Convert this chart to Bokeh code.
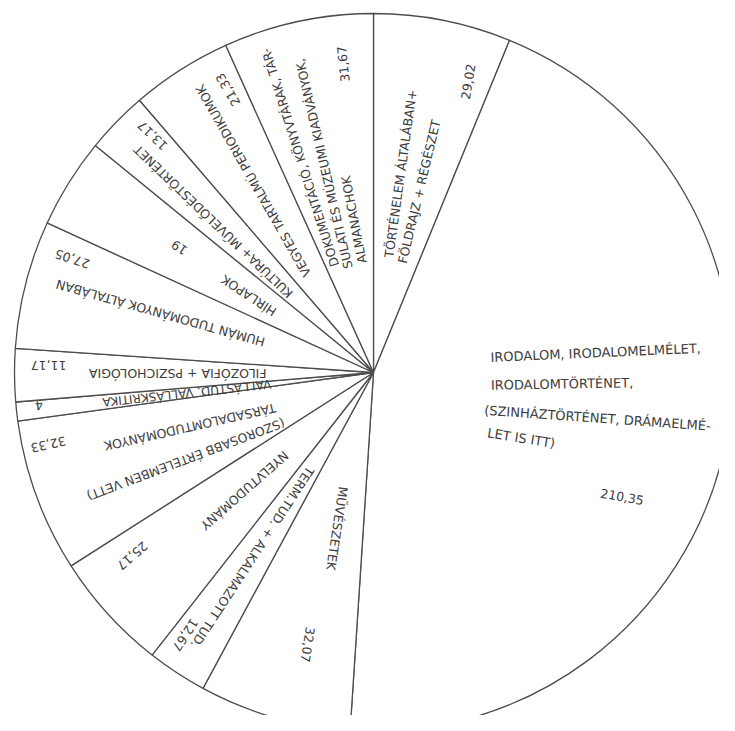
import math
from bokeh.plotting import figure
from bokeh.models import Range1d, ColumnDataSource
from bokeh.core.properties import value
from bokeh.embed import file_html
from bokeh.resources import INLINE

# ---------------- data ----------------
categories = [
    "Történelem általában + földrajz + régészet",
    "Irodalom, irodalomelmélet, irodalomtörténet",
    "Művészetek",
    "Term.tud. + alkalmazott tud.",
    "Nyelvtudomány",
    "(Szorosabb értelemben vett) társadalomtudományok",
    "Vallástud., valláskritika",
    "Filozófia + pszichológia",
    "Humán tudományok általában",
    "Hírlapok",
    "Kultúra + művelődéstörténet",
    "Vegyes tartalmú periodikumok",
    "Dokumentáció, könyvtárak, társulati és múzeumi kiadványok, almanachok",
]
values = [29.02, 210.35, 32.07, 12.67, 25.17, 32.33, 4, 11.17, 27.05, 19, 13.17, 21.33, 31.67]
value_labels = ["29,02", "210,35", "32,07", "12,67", "25,17", "32,33", "4",
                "11,17", "27,05", "19", "13,17", "21,33", "31,67"]
label_lines = [
    ["TÖRTÉNELEM ÁLTALÁBAN+", "FÖLDRAJZ + RÉGÉSZET"],
    ["IRODALOM, IRODALOMELMÉLET,", "IRODALOMTÖRTÉNET,",
     "(SZINHÁZTÖRTÉNET, DRÁMAELMÉ-", "LET IS ITT)"],
    ["MŰVÉSZETEK"],
    ["TERM.TUD. + ALKALMAZOTT TUD."],
    ["NYELVTUDOMÁNY"],
    ["TÁRSADALOMTUDOMÁNYOK", "(SZOROSABB ÉRTELEMBEN VETT)"],
    ["VALLÁSTUD. VALLÁSKRITIKA"],
    ["FILOZÓFIA + PSZICHOLÓGIA"],
    ["HUMÁN TUDOMÁNYOK ÁLTALÁBAN"],
    ["HÍRLAPOK"],
    ["KULTÚRA+ MŰVELŐDÉSTÖRTÉNET"],
    ["VEGYES TARTALMÚ PERIODIKUMOK"],
    ["DOKUMENTÁCIÓ, KÖNYVTÁRAK, TÁR-", "SULATI ÉS MÚZEUMI KIADVÁNYOK,", "ALMANACHOK"],
]

# ---------------- layout (label placement inside each slice) ----------------
# per line: (fraction of slice angle for anchor, radius, fraction for direction or None,
#            fixed rotation deg or None, font px)
line_layout = [
    [(0.34, 116, 0.36, None, 12.5), (0.66, 113, 0.60, None, 12.5)],
    [(0.374, 118, None, 2.5, 13), (0.458, 118, None, 1.0, 13),
     (0.536, 117, None, -4.0, 13), (0.592, 129, None, -9.0, 13)],
    [(0.45, 118, 0.20, None, 12.5)],
    [(0.50, 114, 0.50, None, 12.5)],
    [(0.46, 119, 0.55, None, 12.5)],
    [(0.52, 104, 0.80, None, 12.5), (0.14, 102, 0.48, None, 12.5)],
    [(0.50, 103, 0.50, None, 12)],
    [(0.50, 107, 0.55, None, 12.5)],
    [(0.56, 113, 0.57, None, 12.5)],
    [(0.45, 115, 0.60, None, 12.5)],
    [(0.36, 113, 0.45, None, 12.5)],
    [(0.39, 117, 0.67, None, 12.5)],
    [(0.18, 113, 0.27, None, 12.5), (0.44, 107, 0.46, None, 12.5), (0.76, 110, 0.55, None, 12.5)],
]
value_layout = [
    (0.81, 306, 0.43, None),
    (0.584, 278, None, -10.0),
    (0.40, 280, 0.20, None),
    (0.75, 323, 0.50, None),
    (0.76, 303, 0.55, None),
    (0.81, 333, 0.80, None),
    (0.70, 336, 0.50, None),
    (0.70, 325, 0.55, None),
    (0.81, 322, 0.70, None),
    (0.56, 231, 0.60, None),
    (0.77, 324, 0.50, None),
    (0.82, 318, 0.67, None),
    (0.77, 310, 0.75, None),
]

R = 359
LINE = "#4d4d4d"
INK = "#3c3c3c"
FONT = "DejaVu Sans"

total = sum(values)
starts, ends = [], []
acc = 0.0
for v in values:
    starts.append(360.0 * acc / total)
    acc += v
    ends.append(360.0 * acc / total)

wedges = ColumnDataSource(dict(
    x=[0] * len(values), y=[0] * len(values),
    start=[90 - s for s in starts], end=[90 - e for e in ends],
    cat=categories, val=values,
))

p = figure(width=719, height=715, x_range=Range1d(-373, 346), y_range=Range1d(-343, 372),
           output_backend="svg", toolbar_location=None, min_border=0,
           x_axis_location=None, y_axis_location=None)
p.grid.visible = False
p.outline_line_color = None
p.background_fill_color = "white"
p.border_fill_color = "white"

p.wedge(x="x", y="y", radius=R, start_angle="start", end_angle="end",
        start_angle_units="deg", end_angle_units="deg", direction="clock",
        fill_color="white", line_color=LINE, line_width=1.3, source=wedges)


def place(i, f, r, fdir, rot):
    phi = starts[i] + f * (ends[i] - starts[i])
    x = r * math.sin(math.radians(phi))
    y = r * math.cos(math.radians(phi))
    if rot is None:
        pd = starts[i] + fdir * (ends[i] - starts[i])
        rot = 90 - pd
    return x, y, math.radians(rot)


lines_src = dict(x=[], y=[], text=[], angle=[], size=[])
for i, lines in enumerate(label_lines):
    for txt, lay in zip(lines, line_layout[i]):
        x, y, a = place(i, *lay[:4])
        lines_src["x"].append(x); lines_src["y"].append(y)
        lines_src["text"].append(txt); lines_src["angle"].append(a)
        lines_src["size"].append("%gpx" % lay[4])

p.text(x="x", y="y", text="text", angle="angle", text_font_size="size",
       text_align="left", text_baseline="middle",
       text_font=value(FONT), text_color=INK, source=ColumnDataSource(lines_src))

vx, vy, va = [], [], []
for i, lab in enumerate(value_labels):
    x, y, a = place(i, *value_layout[i])
    vx.append(x); vy.append(y); va.append(a)

p.text(x=vx, y=vy, text=value_labels, angle=va, text_align="center", text_baseline="middle",
       text_font=value(FONT), text_font_size=value("12.5px"), text_color=INK)

open("out.html", "w").write(file_html(p, INLINE))
